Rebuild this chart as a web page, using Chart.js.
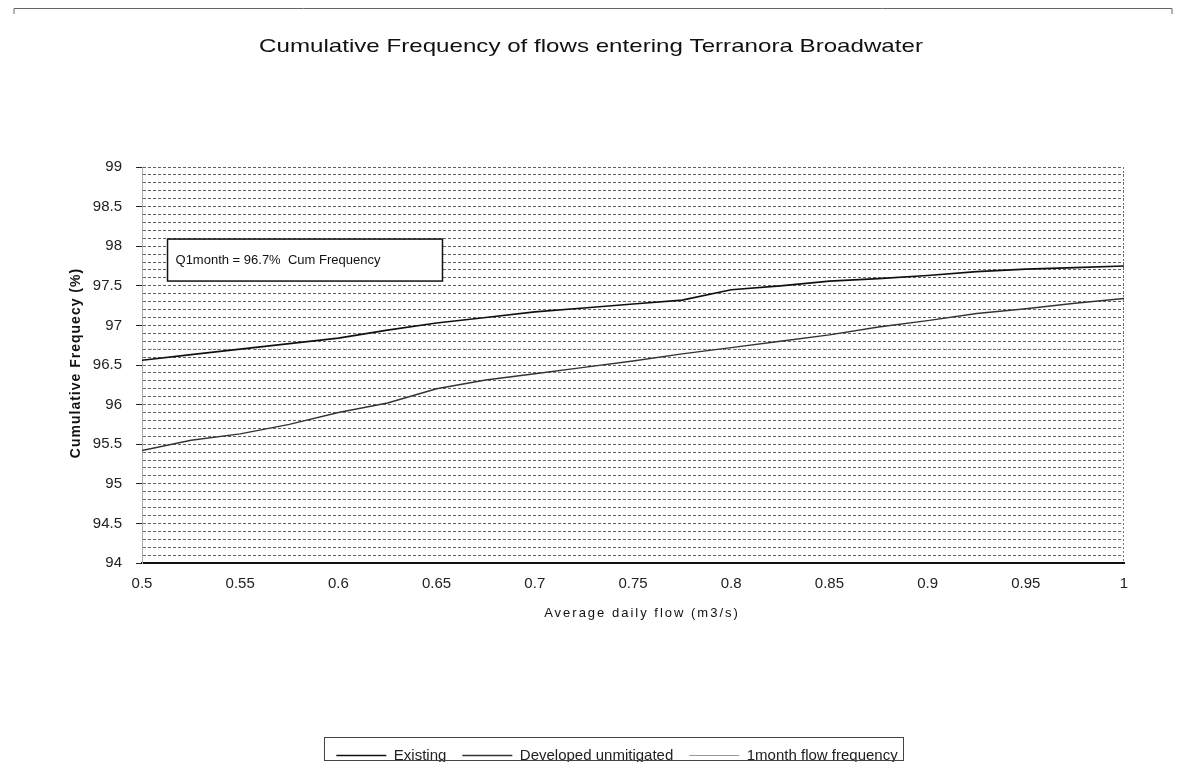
<!DOCTYPE html>
<html><head><meta charset="utf-8">
<script src="https://cdn.jsdelivr.net/npm/chart.js@4.4.0/dist/chart.umd.min.js"></script>
<style>html,body{margin:0;padding:0;background:#fff;} canvas{display:block}</style>
</head><body>
<canvas id="c" width="1179" height="762"></canvas>
<script>
const flow = [0.5, 0.525, 0.55, 0.575, 0.6, 0.625, 0.65, 0.675, 0.7, 0.725, 0.75, 0.775, 0.8, 0.825, 0.85, 0.875, 0.9, 0.925, 0.95, 0.975, 1.0];
const existing = [96.56, 96.63, 96.70, 96.77, 96.84, 96.94, 97.03, 97.10, 97.17, 97.22, 97.27, 97.32, 97.45, 97.50, 97.56, 97.59, 97.63, 97.68, 97.71, 97.73, 97.75];
const developed = [95.42, 95.55, 95.63, 95.75, 95.90, 96.02, 96.20, 96.31, 96.39, 96.47, 96.55, 96.64, 96.72, 96.80, 96.88, 96.98, 97.06, 97.15, 97.21, 97.28, 97.34];
const oneMonthFlow = [0.5, 1.0];
const oneMonthFreq = [96.7, 96.7];
const xTickLabels = ['0.5','0.55','0.6','0.65','0.7','0.75','0.8','0.85','0.9','0.95','1'];
const yTickLabels = ['94','94.5','95','95.5','96','96.5','97','97.5','98','98.5','99'];
const seriesNames = ['Existing', 'Developed unmitigated', '1month flow frequency'];
const chartTitle = 'Cumulative Frequency of flows entering Terranora Broadwater';
const xTitle = 'Average daily flow (m3/s)';
const yTitle = 'Cumulative Frequecy (%)';
const noteText = 'Q1month = 96.7%  Cum Frequency';
const noteBox = {x0: 0.513, x1: 0.653, y0: 98.09, y1: 97.56};

const FONT = '"Liberation Sans", Arial, sans-serif';
const isMajor = v => Math.abs(v * 2 - Math.round(v * 2)) < 1e-6;

const decor = {
  id: 'decor',
  afterLayout(chart) {
    const lg = chart.legend;
    if (lg) { lg.left += 55; lg.right += 55; }
  },
  beforeDraw(chart) {
    const c = chart.ctx;
    c.save(); c.fillStyle = '#fff'; c.fillRect(0, 0, chart.width, chart.height); c.restore();
  },
  afterDatasetsDraw(chart) {
    const c = chart.ctx, xs = chart.scales.x, ys = chart.scales.y, a = chart.chartArea;
    c.save();
    c.strokeStyle = '#777'; c.lineWidth = 1; c.setLineDash([2, 2]);
    c.beginPath(); c.moveTo(a.right - 0.5, a.top); c.lineTo(a.right - 0.5, a.bottom); c.stroke();
    c.setLineDash([]);
    const bx0 = xs.getPixelForValue(noteBox.x0), bx1 = xs.getPixelForValue(noteBox.x1);
    const by0 = ys.getPixelForValue(noteBox.y0), by1 = ys.getPixelForValue(noteBox.y1);
    c.fillStyle = '#fff'; c.fillRect(bx0, by0, bx1 - bx0, by1 - by0);
    c.strokeStyle = '#111'; c.lineWidth = 1.5; c.strokeRect(bx0, by0, bx1 - bx0, by1 - by0);
    c.fillStyle = '#111'; c.font = '13px ' + FONT; c.textBaseline = 'middle'; c.textAlign = 'left';
    c.fillText(noteText, bx0 + 8, (by0 + by1) / 2);
    c.restore();
  },
  afterDraw(chart) {
    const c = chart.ctx;
    c.save();
    c.strokeStyle = '#666'; c.lineWidth = 1;
    c.beginPath(); c.moveTo(14, 14); c.lineTo(14, 8.5); c.lineTo(1172, 8.5); c.lineTo(1172, 14); c.stroke();
    c.fillStyle = '#111'; c.textBaseline = 'middle'; c.textAlign = 'center';
    c.save(); c.translate(591, 47); c.scale(1.27, 1); c.font = '19px ' + FONT; c.fillText(chartTitle, 0, 0); c.restore();
    c.save(); c.font = '13px ' + FONT; c.letterSpacing = '2px'; c.fillText(xTitle, 642, 613); c.restore();
    c.save(); c.translate(76, 363); c.rotate(-Math.PI / 2); c.font = 'bold 14px ' + FONT; c.letterSpacing = '1px'; c.fillText(yTitle, 0, 0); c.restore();
    const lg = chart.legend;
    if (lg && lg.legendHitBoxes && lg.legendHitBoxes.length) {
      const hb = lg.legendHitBoxes;
      const l = hb[0].left - 12, r = hb[hb.length - 1].left + hb[hb.length - 1].width + 6;
      c.strokeStyle = '#444'; c.lineWidth = 1;
      c.strokeRect(Math.round(l) + 0.5, 737.5, Math.round(r - l), 23);
    }
    c.restore();
  }
};

new Chart(document.getElementById('c'), {
  type: 'line',
  data: {
    datasets: [
      { label: seriesNames[0], data: flow.map((x, i) => ({x, y: existing[i]})), borderColor: '#111', borderWidth: 1.7, pointRadius: 0, tension: 0 },
      { label: seriesNames[1], data: flow.map((x, i) => ({x, y: developed[i]})), borderColor: '#333', borderWidth: 1.4, pointRadius: 0, tension: 0 },
      { label: seriesNames[2], data: oneMonthFlow.map((x, i) => ({x, y: oneMonthFreq[i]})), borderColor: '#999', borderWidth: 1, borderDash: [1, 2], pointRadius: 0 }
    ]
  },
  options: {
    responsive: false,
    animation: false,
    devicePixelRatio: 1,
    layout: { padding: { top: 167, right: 55, left: 0, bottom: 0 } },
    plugins: {
      title: { display: false },
      tooltip: { enabled: false },
      legend: {
        position: 'bottom',
        maxHeight: 30,
        labels: { usePointStyle: true, pointStyle: 'line', pointStyleWidth: 50, padding: 16, color: '#222', font: { family: FONT, size: 15 } }
      }
    },
    scales: {
      x: {
        type: 'linear', min: 0.5, max: 1,
        afterFit: s => { s.height = 169; },
        grid: { display: true, drawOnChartArea: false, drawTicks: false, color: 'rgba(0,0,0,0)' },
        border: { display: true, color: '#111', width: 2 },
        ticks: { stepSize: 0.05, padding: 12, color: '#222', font: { family: FONT, size: 15 }, maxRotation: 0, autoSkip: false,
          callback: v => { const i = Math.round((v - 0.5) / 0.05); return Math.abs((v - 0.5) / 0.05 - i) < 1e-6 ? xTickLabels[i] : ''; } }
      },
      y: {
        type: 'linear', min: 94, max: 99,
        afterFit: s => { s.width = 142; },
        grid: { color: '#606060', lineWidth: 1, tickLength: 6, tickColor: ctx => isMajor(ctx.tick.value) ? '#222' : 'rgba(0,0,0,0)' },
        border: { display: true, color: '#aaa', width: 1, dash: [3, 2] },
        ticks: { stepSize: 0.1, autoSkip: false, padding: 14, color: '#222', font: { family: FONT, size: 15 },
          callback: v => isMajor(v) ? yTickLabels[Math.round((v - 94) * 2)] : '' }
      }
    }
  },
  plugins: [decor]
});
</script>
</body></html>
